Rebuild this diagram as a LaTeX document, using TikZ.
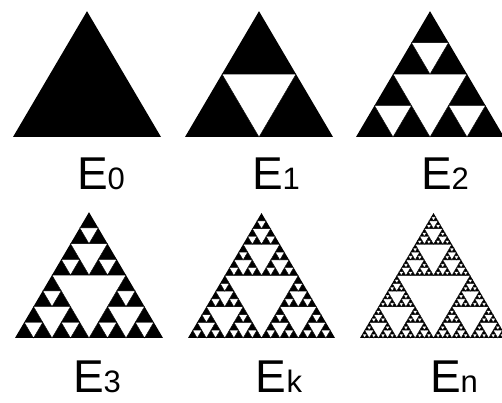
\documentclass[tikz,border=0pt]{standalone}
\usepackage{fontspec}
\setmainfont{Liberation Sans}
\usetikzlibrary{positioning}

% white holes cut out of a triangle: level, left x, base y, side
\newcommand{\sierphole}[4]{%
  \ifnum#1>0\relax
    \begingroup
    \pgfmathsetmacro\hside{#4/2}
    \pgfmathsetmacro\hx{#2+#4/2}
    \pgfmathsetmacro\qx{#2+#4/4}
    \pgfmathsetmacro\hy{#3+#4*0.425}
    \filldraw[hole] (\qx,\hy) -- (\qx+\hside,\hy) -- (\hx,#3) -- cycle;
    \edef\sierpnext{%
      \noexpand\sierphole{\the\numexpr#1-1\relax}{#2}{#3}{\hside}%
      \noexpand\sierphole{\the\numexpr#1-1\relax}{\hx}{#3}{\hside}%
      \noexpand\sierphole{\the\numexpr#1-1\relax}{\qx}{\hy}{\hside}}%
    \sierpnext
    \endgroup
  \fi}

% black triangle with its holes: level, left x, base y, side
\newcommand{\sierpinski}[4]{%
  \fill[solidtri] (#2,#3) -- ++(#4,0) -- ++(-#4/2,{#4*0.85}) -- cycle;
  \sierphole{#1}{#2}{#3}{#4}}

\newcommand{\stagenum}[1]{{\fontsize{31}{31}\selectfont#1}}

\begin{document}
\begin{tikzpicture}[
    x=1pt, y=1pt,
    solidtri/.style={fill=black},
    hole/.style={fill=white, draw=black, line width=0.4pt, line join=miter},
    lbl/.style={anchor=base, inner sep=0pt, text depth=0pt, font=\fontsize{46}{46}\selectfont}
]
\useasboundingbox (0,0) rectangle (502,403);

% top row
\sierpinski{0}{13}{266}{148}
\sierpinski{1}{185}{266}{148}
\sierpinski{2}{356}{266}{148}

% bottom row
\sierpinski{3}{15}{65}{148}
\sierpinski{4}{188}{65}{147}
\sierpinski{5}{360}{65}{147}

\node[lbl] (e0) at (101,213) {E\stagenum{0}};
\node[lbl] (e1) at (276,213) {E\stagenum{1}};
\node[lbl] (e2) at (445,213) {E\stagenum{2}};
\node[lbl] (e3) at (97,10) {E\stagenum{3}};
\node[lbl] (ek) at (279,10) {E\stagenum{k}};
\node[lbl] (en) at (454,10) {E\stagenum{n}};
\end{tikzpicture}
\end{document}
